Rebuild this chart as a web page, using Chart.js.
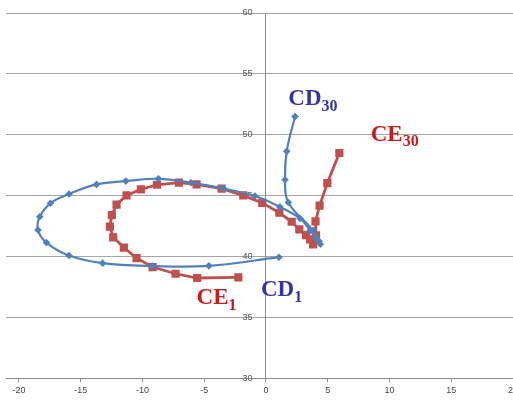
<!DOCTYPE html>
<html>
<head>
<meta charset="utf-8">
<script src="https://cdn.jsdelivr.net/npm/chart.js@4"></script>
<style>
  html, body { margin: 0; padding: 0; background: #fff; overflow: hidden; }
  #wrap { width: 530px; height: 404px; }
</style>
</head>
<body>
<div id="wrap"><canvas id="loopChart" width="530" height="404"></canvas></div>
<script>
// CD series (blue diamonds, smoothed)
const cdX = [1.05, -4.62, -9.16, -13.23, -15.95, -17.78, -18.46, -18.32, -17.45, -15.94, -13.72, -11.35, -8.71, -6.08, -3.40, -0.89, 1.13, 2.76, 3.57, 4.05, 4.40, 4.30, 3.81, 1.81, 1.54, 1.68, 2.35];
const cdY = [39.94, 39.23, 39.21, 39.45, 40.08, 41.14, 42.17, 43.26, 44.37, 45.13, 45.92, 46.19, 46.38, 46.06, 45.57, 44.97, 44.07, 43.12, 42.14, 41.49, 41.00, 41.25, 42.14, 44.43, 46.30, 48.64, 51.49];

// CE series (red squares, straight segments)
const ceX = [-2.24, -5.57, -7.32, -9.18, -10.48, -11.51, -12.37, -12.64, -12.48, -12.10, -11.29, -10.13, -8.83, -7.05, -5.62, -3.59, -1.84, -0.30, 1.08, 2.08, 2.70, 3.24, 3.57, 3.81, 4.05, 4.01, 4.34, 4.97, 5.94];
const ceY = [38.29, 38.23, 38.58, 39.13, 39.86, 40.73, 41.57, 42.45, 43.39, 44.26, 45.02, 45.51, 45.89, 46.06, 45.92, 45.57, 45.02, 44.40, 43.59, 42.85, 42.22, 41.76, 41.41, 41.00, 41.74, 42.88, 44.18, 46.03, 48.50];

const xTicks = [-20, -15, -10, -5, 0, 5, 10, 15, 20];
const yTicks = [30, 35, 40, 45, 50, 55, 60];

// start/end labels, anchored in data units
const curveLabels = [
    { text: "CD", sub: "30", x: 1.81, y: 52.41, color: "#3434a6" },
    { text: "CE", sub: "30", x: 8.48, y: 49.50, color: "#cc1a1a" },
    { text: "CD", sub: "1", x: -0.41, y: 36.74, color: "#3434a6" },
    { text: "CE", sub: "1", x: -5.62, y: 36.06, color: "#cc1a1a" }
];

const toPoints = (xs, ys) => xs.map((v, i) => ({ x: v, y: ys[i] }));

const labelPlugin = {
    id: "curveLabels",
    afterDatasetsDraw(chart) {
        const { ctx, scales } = chart;
        curveLabels.forEach(l => {
            const px = scales.x.getPixelForValue(l.x);
            const py = scales.y.getPixelForValue(l.y);
            ctx.save();
            ctx.fillStyle = l.color;
            ctx.textBaseline = "alphabetic";
            ctx.font = 'bold 23px "Liberation Serif"';
            ctx.fillText(l.text, px, py);
            const w = ctx.measureText(l.text).width;
            ctx.font = 'bold 16px "Liberation Serif"';
            ctx.fillText(l.sub, px + w, py + 5.5);
            ctx.restore();
        });
    }
};

const ctx = document.getElementById("loopChart").getContext("2d");
new Chart(ctx, {
    type: "scatter",
    data: {
        datasets: [
            {
                label: "CD",
                data: toPoints(cdX, cdY),
                showLine: true,
                tension: 0.4,
                borderColor: "#4f81bd",
                backgroundColor: "#4f81bd",
                borderWidth: 2.2,
                pointStyle: "rectRot",
                pointRadius: 3.8,
                pointBorderWidth: 0
            },
            {
                label: "CE",
                data: toPoints(ceX, ceY),
                showLine: true,
                tension: 0,
                borderColor: "#c0504d",
                backgroundColor: "#c0504d",
                borderWidth: 2.8,
                pointStyle: "rect",
                pointRadius: 5.8,
                pointBorderWidth: 0
            }
        ]
    },
    options: {
        responsive: false,
        animation: false,
        layout: { padding: { left: 6, top: 13, right: 17, bottom: 5 } },
        plugins: {
            legend: { display: false },
            tooltip: { enabled: false }
        },
        scales: {
            x: {
                type: "linear",
                min: -21.05,
                max: 20,
                afterBuildTicks: scale => { scale.ticks = xTicks.map(v => ({ value: v })); },
                grid: { drawOnChartArea: false, drawTicks: true, tickLength: 4, color: "#8c8c8c" },
                border: { color: "#8c8c8c" },
                ticks: { color: "#444", font: { family: "Arial, 'Liberation Sans'", size: 9 }, padding: 3, maxRotation: 0 }
            },
            y: {
                type: "linear",
                min: 30,
                max: 60,
                position: { x: 0 },
                afterBuildTicks: scale => { scale.ticks = yTicks.map(v => ({ value: v })); },
                grid: { color: "#a6a6a6", drawTicks: false },
                border: { color: "#8c8c8c" },
                ticks: {
                    color: "#555",
                    font: { family: "Arial, 'Liberation Sans'", size: 9 },
                    padding: 4,
                    // labels sit right-aligned on the axis line; pad them off it
                    callback: v => v + "\u2002\u2002\u2002"
                }
            }
        }
    },
    plugins: [labelPlugin]
});
</script>
</body>
</html>
